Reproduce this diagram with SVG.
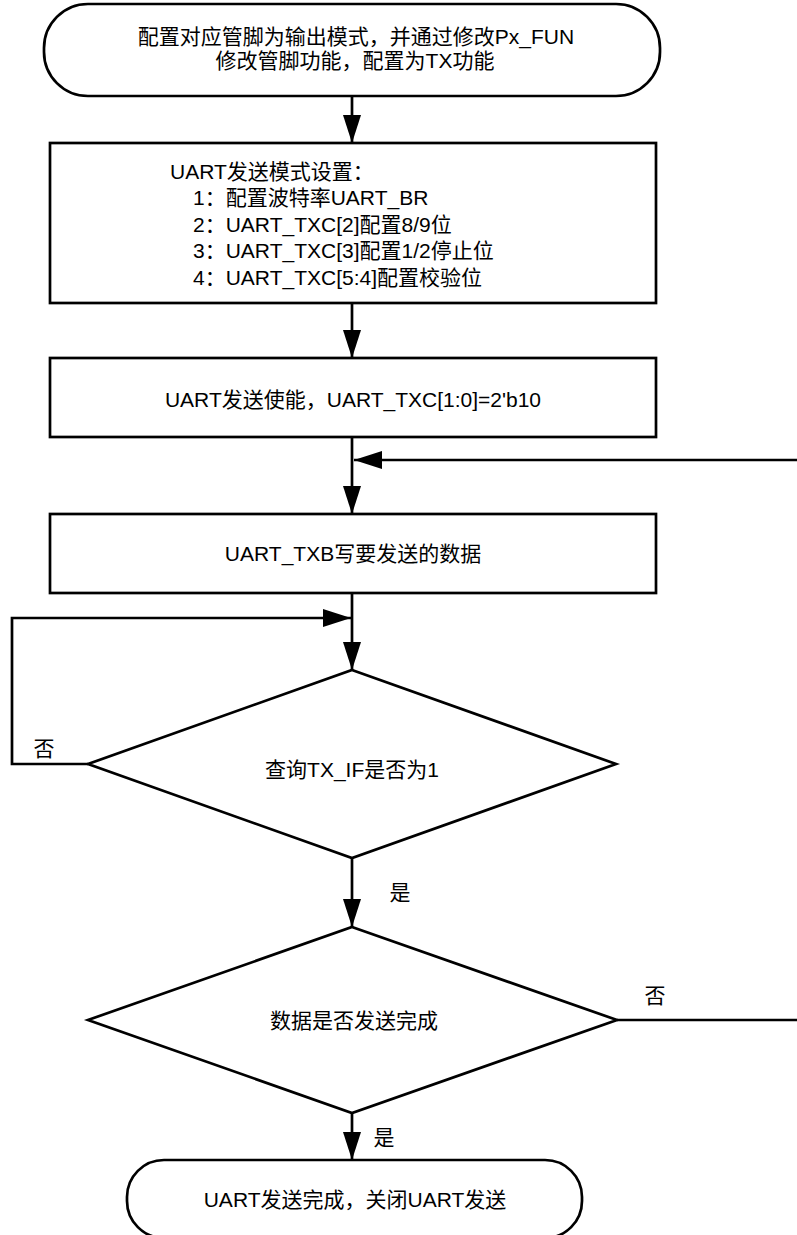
<svg xmlns="http://www.w3.org/2000/svg" width="797" height="1235" viewBox="0 0 797 1235">
<style>
.s{fill:#fff;stroke:#000;stroke-width:2.7}
.c{fill:none;stroke:#000;stroke-width:2.7}
text{font-family:"Liberation Sans","Noto Sans CJK SC",sans-serif;font-size:21px;fill:#000}
.m{text-anchor:middle}
</style>
<defs>
<marker id="a" markerUnits="userSpaceOnUse" viewBox="0 0 28 18" refX="28" refY="9" markerWidth="28" markerHeight="18" orient="auto">
<path d="M0,0 L28,9 L0,18 Z" fill="#000"/>
</marker>
</defs>
<rect width="797" height="1235" fill="#fff"/>
<g id="connectors">
<line class="c" x1="352" y1="96" x2="352" y2="143" marker-end="url(#a)"/>
<line class="c" x1="352" y1="303" x2="352" y2="358" marker-end="url(#a)"/>
<line class="c" x1="352" y1="437" x2="352" y2="514" marker-end="url(#a)"/>
<line class="c" x1="797" y1="460" x2="354" y2="460" marker-end="url(#a)"/>
<line class="c" x1="352" y1="593" x2="352" y2="670" marker-end="url(#a)"/>
<polyline class="c" points="88,764 12,764 12,618 351,618" marker-end="url(#a)"/>
<line class="c" x1="352" y1="858" x2="352" y2="927" marker-end="url(#a)"/>
<line class="c" x1="617" y1="1020" x2="797" y2="1020"/>
<line class="c" x1="352" y1="1113" x2="352" y2="1160" marker-end="url(#a)"/>
<text class="m" x="44" y="756">否</text>
<text class="m" x="400" y="900">是</text>
<text class="m" x="655" y="1003">否</text>
<text class="m" x="384" y="1145">是</text>
</g>
<g id="start">
<rect class="s" x="44" y="4" width="616" height="92" rx="44" ry="44"/>
<text class="m" x="356" y="44">配置对应管脚为输出模式，并通过修改Px_FUN</text>
<text class="m" x="355" y="68">修改管脚功能，配置为TX功能</text>
</g>
<g id="setup">
<rect class="s" x="50" y="143" width="606" height="160"/>
<text x="170" y="179">UART发送模式设置：</text>
<text x="193" y="205">1：配置波特率UART_BR</text>
<text x="193" y="232">2：UART_TXC[2]配置8/9位</text>
<text x="193" y="258">3：UART_TXC[3]配置1/2停止位</text>
<text x="193" y="285">4：UART_TXC[5:4]配置校验位</text>
</g>
<g id="enable">
<rect class="s" x="50" y="358" width="606" height="79"/>
<text class="m" x="353" y="407">UART发送使能，UART_TXC[1:0]=2'b10</text>
</g>
<g id="write">
<rect class="s" x="50" y="514" width="606" height="79"/>
<text class="m" x="353" y="561">UART_TXB写要发送的数据</text>
</g>
<g id="check_if">
<polygon class="s" points="352,670 616,764 352,858 88,764"/>
<text class="m" x="352" y="777">查询TX_IF是否为1</text>
</g>
<g id="check_done">
<polygon class="s" points="352,927 617,1020 352,1113 88,1020"/>
<text class="m" x="354" y="1028">数据是否发送完成</text>
</g>
<g id="end">
<rect class="s" x="127" y="1160" width="455" height="78" rx="37" ry="37"/>
<text class="m" x="355" y="1207">UART发送完成，关闭UART发送</text>
</g>
</svg>
